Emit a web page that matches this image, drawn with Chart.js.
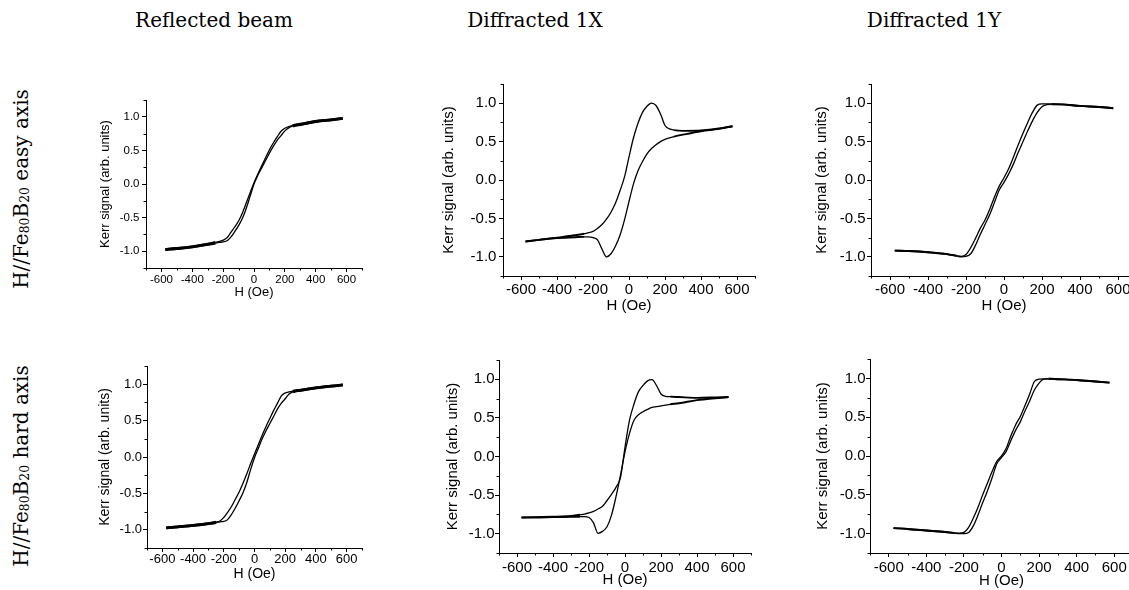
<!DOCTYPE html>
<html>
<head>
<meta charset="utf-8">
<title>MOKE hysteresis loops</title>
<script src="https://cdn.jsdelivr.net/npm/chart.js@4.4.1/dist/chart.umd.min.js"></script>
<style>
  html, body { margin: 0; padding: 0; background: #fff; }
  body { width: 1129px; height: 590px; position: relative; overflow: hidden; font-family: 'DejaVu Serif', serif; color: #000; }
  .col-title { position: absolute; top: 8px; font-size: 20px; line-height: 24px; white-space: nowrap; transform: translateX(-50%); }
  .row-title { position: absolute; font-size: 20px; line-height: 24px; white-space: nowrap; transform: translate(-50%, -50%) rotate(-90deg); }
  .row-title sub { font-size: 62%; vertical-align: -0.08em; }
  .panel { position: absolute; }
</style>
</head>
<body>

<div class="col-title" style="left:214px">Reflected beam</div>
<div class="col-title" style="left:535px">Diffracted 1X</div>
<div class="col-title" style="left:934px">Diffracted 1Y</div>
<div class="row-title" style="left:23px; top:189px">H//Fe<sub>80</sub>B<sub>20</sub> easy axis</div>
<div class="row-title" style="left:23px; top:466px">H//Fe<sub>80</sub>B<sub>20</sub> hard axis</div>

<div class="panel" id="p1"><canvas id="c1"></canvas></div>
<div class="panel" id="p2"><canvas id="c2"></canvas></div>
<div class="panel" id="p3"><canvas id="c3"></canvas></div>
<div class="panel" id="p4"><canvas id="c4"></canvas></div>
<div class="panel" id="p5"><canvas id="c5"></canvas></div>
<div class="panel" id="p6"><canvas id="c6"></canvas></div>

<script>
// applied field (Oe), shared by every branch below
const fieldOe = [-575, -500, -400, -300, -250, -225, -200, -175, -150, -125, -100, -75, -50, -25, 0,
                 25, 50, 75, 100, 125, 150, 175, 200, 225, 250, 300, 400, 500, 575];

// axis ticks
const xTicks = [-600, -400, -200, 0, 200, 400, 600];
const xMinorTicks = [-700, -500, -300, -100, 100, 300, 500, 700];
const yTicks = [-1.0, -0.5, 0.0, 0.5, 1.0];
const yMinorTicks = [-1.25, -0.75, -0.25, 0.25, 0.75, 1.25];

// Kerr signal, easy axis: descending-field and ascending-field branches
const reflEasyDown = [-0.975, -0.96, -0.935, -0.895, -0.87, -0.855, -0.835, -0.80, -0.72, -0.64, -0.55, -0.43, -0.28, -0.13, 0.02,
                      0.15, 0.27, 0.39, 0.51, 0.61, 0.70, 0.785, 0.83, 0.855, 0.87, 0.89, 0.93, 0.955, 0.975];
const reflEasyUp   = [-0.975, -0.96, -0.935, -0.90, -0.88, -0.87, -0.86, -0.845, -0.79, -0.71, -0.62, -0.51, -0.36, -0.18, 0.0,
                      0.13, 0.24, 0.35, 0.46, 0.56, 0.65, 0.72, 0.79, 0.835, 0.86, 0.885, 0.93, 0.955, 0.975];
const diffXEasyDown = [-0.80, -0.78, -0.75, -0.72, -0.70, -0.685, -0.67, -0.63, -0.58, -0.51, -0.42, -0.30, -0.14, 0.04, 0.30,
                       0.55, 0.74, 0.88, 0.96, 1.0, 0.97, 0.86, 0.71, 0.665, 0.65, 0.64, 0.645, 0.67, 0.70];
const diffXEasyUp   = [-0.80, -0.78, -0.755, -0.745, -0.74, -0.74, -0.75, -0.78, -0.90, -1.0, -0.96, -0.86, -0.72, -0.52, -0.28,
                       -0.05, 0.12, 0.24, 0.34, 0.41, 0.46, 0.50, 0.53, 0.55, 0.565, 0.59, 0.635, 0.665, 0.70];
const diffYEasyDown = [-0.92, -0.925, -0.94, -0.965, -0.985, -0.995, -0.97, -0.88, -0.76, -0.63, -0.52, -0.38, -0.22, -0.08, 0.03,
                       0.15, 0.30, 0.46, 0.61, 0.75, 0.88, 0.975, 0.99, 0.99, 0.99, 0.985, 0.965, 0.95, 0.935];
const diffYEasyUp   = [-0.92, -0.925, -0.94, -0.965, -0.99, -1.0, -0.995, -0.96, -0.85, -0.71, -0.58, -0.45, -0.29, -0.13, -0.03,
                       0.08, 0.21, 0.36, 0.50, 0.64, 0.77, 0.88, 0.955, 0.98, 0.985, 0.985, 0.965, 0.95, 0.935];

// Kerr signal, hard axis
const reflHardDown = [-0.975, -0.96, -0.94, -0.915, -0.895, -0.88, -0.83, -0.76, -0.68, -0.58, -0.48, -0.36, -0.23, -0.09, 0.04,
                      0.17, 0.30, 0.42, 0.53, 0.64, 0.74, 0.84, 0.88, 0.895, 0.905, 0.92, 0.95, 0.975, 0.99];
const reflHardUp   = [-0.975, -0.96, -0.94, -0.915, -0.90, -0.89, -0.885, -0.86, -0.79, -0.70, -0.60, -0.49, -0.35, -0.17, -0.01,
                      0.12, 0.25, 0.36, 0.46, 0.56, 0.66, 0.74, 0.80, 0.865, 0.895, 0.915, 0.95, 0.975, 0.99];
const diffXHardDown = [-0.79, -0.785, -0.78, -0.77, -0.755, -0.745, -0.73, -0.71, -0.68, -0.645, -0.57, -0.49, -0.40, -0.27, 0.12,
                       0.47, 0.68, 0.84, 0.92, 0.98, 0.995, 0.92, 0.81, 0.78, 0.775, 0.77, 0.76, 0.765, 0.77];
const diffXHardUp   = [-0.79, -0.79, -0.785, -0.78, -0.78, -0.78, -0.79, -0.86, -0.995, -0.97, -0.91, -0.76, -0.52, -0.24, 0.06,
                       0.30, 0.47, 0.54, 0.58, 0.61, 0.635, 0.645, 0.655, 0.665, 0.675, 0.69, 0.73, 0.755, 0.77];
const diffYHardDown = [-0.93, -0.94, -0.96, -0.98, -0.99, -0.995, -0.985, -0.92, -0.80, -0.66, -0.50, -0.35, -0.20, -0.07, 0.0,
                       0.10, 0.26, 0.40, 0.51, 0.65, 0.80, 0.96, 0.99, 0.995, 0.995, 0.99, 0.98, 0.96, 0.945];
const diffYHardUp   = [-0.93, -0.94, -0.96, -0.98, -0.995, -1.0, -1.0, -0.985, -0.90, -0.76, -0.60, -0.45, -0.28, -0.10, -0.02,
                       0.06, 0.20, 0.33, 0.44, 0.58, 0.71, 0.85, 0.94, 0.99, 0.995, 0.99, 0.98, 0.96, 0.945];

Chart.defaults.font.family = "'Liberation Sans', Arial, sans-serif";
Chart.defaults.color = '#000';

// short outward ticks between the labelled ones
const minorTicks = {
  id: 'minorTicks',
  afterDraw(chart) {
    const { ctx, chartArea, scales: { x, y } } = chart;
    ctx.save();
    ctx.strokeStyle = '#000';
    ctx.lineWidth = 1;
    ctx.beginPath();
    for (const v of xMinorTicks) {
      const px = Math.round(x.getPixelForValue(v)) + 0.5;
      ctx.moveTo(px, chartArea.bottom);
      ctx.lineTo(px, chartArea.bottom + 2.5);
    }
    for (const v of yMinorTicks) {
      const py = Math.round(y.getPixelForValue(v)) + 0.5;
      ctx.moveTo(chartArea.left, py);
      ctx.lineTo(chartArea.left - 2.5, py);
    }
    ctx.stroke();
    ctx.restore();
  }
};

function branch(values, tailWidth) {
  return {
    data: fieldOe.map((h, i) => ({ x: h, y: values[i] })),
    showLine: true,
    borderColor: '#000',
    borderWidth: 1.3,
    pointRadius: 0,
    cubicInterpolationMode: 'monotone',
    segment: {
      borderWidth: ctx => (Math.abs(ctx.p0.parsed.x) >= 250 && Math.abs(ctx.p1.parsed.x) >= 250) ? tailWidth : 1.3
    }
  };
}

// plot box [left, top, right, bottom] in page pixels, font sizes and label offsets
const PAD_TOP = 14, PAD_RIGHT = 14;
const panels = [
  { el: 'p1', cv: 'c1', box: [146, 100, 362, 268], tick: 11.5, title: 13, yw: 48, yPad: 2.5, xPad: 0.8, xh: 32, down: reflEasyDown, up: reflEasyUp, tail: 2.8 },
  { el: 'p2', cv: 'c2', box: [503, 84, 755, 276], tick: 15, title: 15, yw: 63, yPad: 2.6, xPad: 0.4, xh: 39, down: diffXEasyDown, up: diffXEasyUp, tail: 1.9 },
  { el: 'p3', cv: 'c3', box: [871, 84, 1137, 276], tick: 15, title: 15, yw: 58, yPad: 1.3, xPad: 1.2, xh: 39, down: diffYEasyDown, up: diffYEasyUp, tail: 1.9 },
  { el: 'p4', cv: 'c4', box: [147, 366, 362, 548], tick: 13, title: 14, yw: 50, yPad: 1, xPad: 0, xh: 35, down: reflHardDown, up: reflHardUp, tail: 2.8 },
  { el: 'p5', cv: 'c5', box: [499, 360, 751, 553], tick: 15, title: 15, yw: 55, yPad: 0.5, xPad: 1.6, xh: 36, down: diffXHardDown, up: diffXHardUp, tail: 1.9 },
  { el: 'p6', cv: 'c6', box: [870, 359, 1133, 553], tick: 15, title: 15, yw: 56, yPad: 0.5, xPad: 1.5, xh: 37, down: diffYHardDown, up: diffYHardUp, tail: 1.9 }
];

for (const p of panels) {
  const [l, t, r, b] = p.box;
  const div = document.getElementById(p.el);
  div.style.left = (l - p.yw) + 'px';
  div.style.top = (t - PAD_TOP) + 'px';
  div.style.width = (p.yw + (r - l) + PAD_RIGHT) + 'px';
  div.style.height = (PAD_TOP + (b - t) + p.xh) + 'px';

  new Chart(document.getElementById(p.cv), {
    type: 'scatter',
    data: { datasets: [branch(p.down, p.tail), branch(p.up, p.tail)] },
    options: {
      responsive: true,
      maintainAspectRatio: false,
      animation: false,
      layout: { autoPadding: false, padding: { top: PAD_TOP, right: PAD_RIGHT, bottom: 0, left: 0 } },
      plugins: { legend: { display: false }, tooltip: { enabled: false } },
      scales: {
        x: {
          type: 'linear',
          min: -700,
          max: 700,
          afterBuildTicks: s => { s.ticks = xTicks.map(v => ({ value: v })); },
          afterFit: s => { s.height = p.xh; },
          ticks: { autoSkip: false, maxRotation: 0, padding: p.xPad, font: { size: p.tick }, color: '#000', callback: v => String(v) },
          grid: { drawOnChartArea: false, drawTicks: true, tickLength: 4, color: '#000' },
          border: { display: true, color: '#000', width: 1 },
          title: { display: true, text: 'H (Oe)', padding: 0, font: { size: p.title }, color: '#000' }
        },
        y: {
          type: 'linear',
          min: -1.25,
          max: 1.25,
          afterBuildTicks: s => { s.ticks = yTicks.map(v => ({ value: v })); },
          afterFit: s => { s.width = p.yw; },
          ticks: { autoSkip: false, padding: p.yPad, font: { size: p.tick }, color: '#000', callback: v => v.toFixed(1) },
          grid: { drawOnChartArea: false, drawTicks: true, tickLength: 4, color: '#000' },
          border: { display: true, color: '#000', width: 1 },
          title: { display: true, text: 'Kerr signal (arb. units)', padding: 0, font: { size: p.title }, color: '#000' }
        }
      }
    },
    plugins: [minorTicks]
  });
}
</script>
</body>
</html>
